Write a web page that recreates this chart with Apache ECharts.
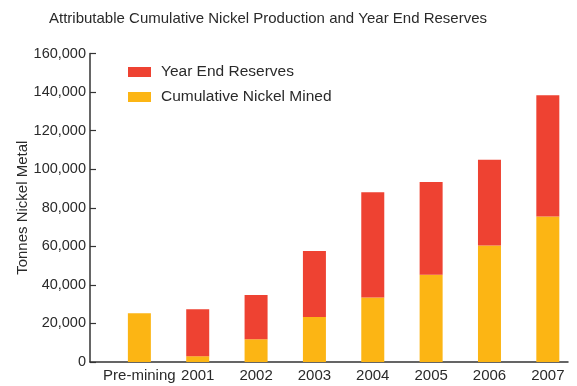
<!DOCTYPE html>
<html>
<head>
<meta charset="utf-8">
<script src="https://cdn.jsdelivr.net/npm/echarts@6/dist/echarts.min.js"></script>
<style>html,body{margin:0;padding:0;background:#fff;}#c{width:577px;height:386px;}</style>
</head>
<body>
<div id="c"></div>
<script>
var categories = ['Pre-mining', '2001', '2002', '2003', '2004', '2005', '2006', '2007'];
var cumulativeMined = [25300, 3000, 11800, 23300, 33400, 45200, 60400, 75500];
var yearEndReserves = [0, 24400, 22900, 34300, 54600, 48200, 44500, 62800];
var yTicks = [0, 20000, 40000, 60000, 80000, 100000, 120000, 140000, 160000];

var FONT = "'Liberation Sans', Arial, sans-serif";
var TXT = '#2a2a2a';
var chart = echarts.init(document.getElementById('c'), null, {renderer: 'canvas'});
chart.setOption({
  animation: false,
  backgroundColor: '#fff',
  title: {
    text: 'Attributable Cumulative Nickel Production and Year End Reserves',
    left: 49, top: 11, padding: 0,
    textStyle: {fontFamily: FONT, fontSize: 15, fontWeight: 'normal', color: TXT}
  },
  legend: {
    orient: 'vertical', left: 128, top: 64, padding: 0,
    itemWidth: 23, itemHeight: 10, itemGap: 9,
    icon: 'rect',
    data: ['Year End Reserves', 'Cumulative Nickel Mined'],
    textStyle: {fontFamily: FONT, fontSize: 15.5, color: TXT, lineHeight: 16, padding: [0, 0, 0, 5]}
  },
  grid: [
    {left: 110.2, right: -5, top: 53.5, bottom: 24, containLabel: false},
    {left: 90, right: 9, top: 53.5, bottom: 24, containLabel: false}
  ],
  xAxis: [
    {
      type: 'category', gridIndex: 0, data: categories,
      axisLine: {show: false}, axisTick: {show: false},
      axisLabel: {fontFamily: FONT, fontSize: 15, color: TXT, margin: 6, interval: 0}
    },
    {
      type: 'value', gridIndex: 1, min: 0, max: 1,
      axisLine: {show: true, lineStyle: {color: '#333', width: 1.5}},
      axisTick: {show: false}, axisLabel: {show: false}, splitLine: {show: false}
    }
  ],
  yAxis: [
    {
      type: 'value', gridIndex: 0, min: yTicks[0], max: yTicks[yTicks.length - 1], interval: 20000,
      offset: 20.2,
      name: 'Tonnes Nickel Metal', nameLocation: 'middle', nameGap: 60, nameMoveOverlap: false,
      nameTextStyle: {fontFamily: FONT, fontSize: 15, color: TXT},
      axisLine: {show: true, lineStyle: {color: '#333', width: 1.5}},
      axisTick: {show: true, inside: true, length: 6, lineStyle: {color: '#333', width: 1.2}},
      splitLine: {show: false},
      axisLabel: {
        fontFamily: FONT, fontSize: 14.5, color: TXT, margin: 4, padding: [0, 0, 8, 0],
        formatter: function (v) { return v.toLocaleString('en-US'); }
      }
    },
    {type: 'value', gridIndex: 1, show: false, min: 0, max: 1}
  ],
  series: [
    {
      name: 'Cumulative Nickel Mined', type: 'bar', stack: 'total',
      xAxisIndex: 0, yAxisIndex: 0, barWidth: 23,
      itemStyle: {color: '#FCB514'}, data: cumulativeMined
    },
    {
      name: 'Year End Reserves', type: 'bar', stack: 'total',
      xAxisIndex: 0, yAxisIndex: 0, barWidth: 23,
      itemStyle: {color: '#EE4232'}, data: yearEndReserves
    }
  ]
});
</script>
</body>
</html>
